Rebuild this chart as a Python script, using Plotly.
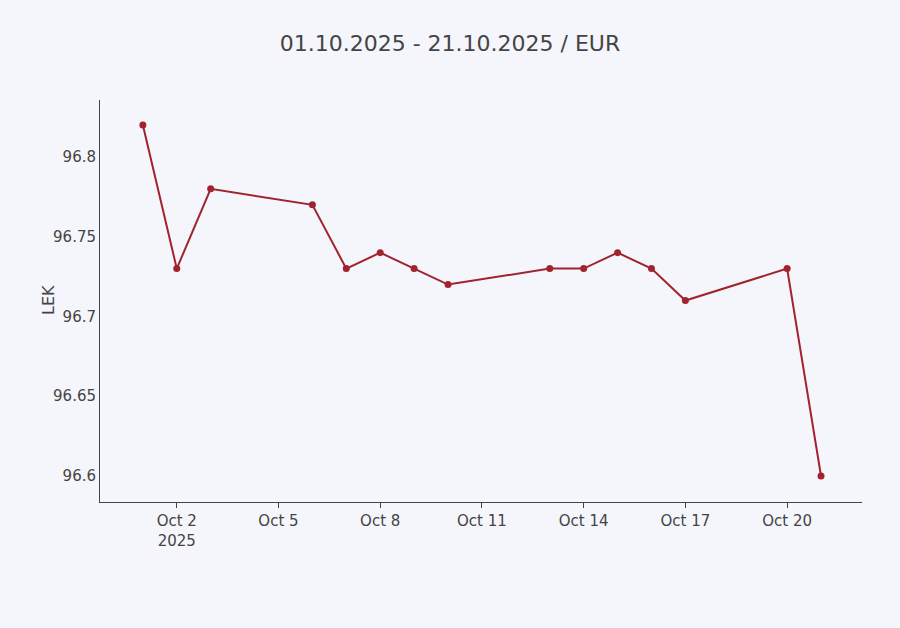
import plotly.graph_objects as go

dates = ["2025-10-01", "2025-10-02", "2025-10-03", "2025-10-06", "2025-10-07",
         "2025-10-08", "2025-10-09", "2025-10-10", "2025-10-13", "2025-10-14",
         "2025-10-15", "2025-10-16", "2025-10-17", "2025-10-20", "2025-10-21"]
rates = [96.82, 96.73, 96.78, 96.77, 96.73, 96.74, 96.73, 96.72, 96.73, 96.73,
         96.74, 96.73, 96.71, 96.73, 96.60]

color = "#a0232f"
fig = go.Figure(go.Scatter(x=dates, y=rates, mode="lines+markers",
                           line=dict(color=color, width=2),
                           marker=dict(color=color, size=7)))

font = "Verdana, DejaVu Sans, sans-serif"
fig.update_layout(
    width=900, height=628,
    paper_bgcolor="#f5f6fb", plot_bgcolor="#f5f6fb",
    font=dict(family=font, size=15, color="#444"),
    title=dict(text="01.10.2025 - 21.10.2025 / EUR", x=0.5, xanchor="center",
               y=1 - 43 / 628, yanchor="middle", font=dict(size=22, color="#444")),
    margin=dict(l=100, r=38, t=100, b=126),
    showlegend=False,
    annotations=[dict(text="LEK", textangle=-90, xref="paper", yref="paper",
                      x=(48 - 100) / 762, y=(502 - 300) / 402,
                      xanchor="center", yanchor="middle", showarrow=False,
                      font=dict(size=16, color="#444"))],
)
fig.update_xaxes(range=["2025-09-29 17:40", "2025-10-22 05:00"],
                 showline=True, linecolor="#444", linewidth=1,
                 ticks="outside", ticklen=5, tickcolor="#444",
                 showgrid=False, zeroline=False, dtick=3*86400000,
                 tick0="2025-10-02")
fig.update_yaxes(range=[96.5837, 96.8357],
                 showline=True, linecolor="#444", linewidth=1,
                 showgrid=False, zeroline=False, dtick=0.05)
fig.write_html("out.html", config={"displayModeBar": False},
               post_script="document.body.style.margin='0';document.body.style.overflow='hidden';")
